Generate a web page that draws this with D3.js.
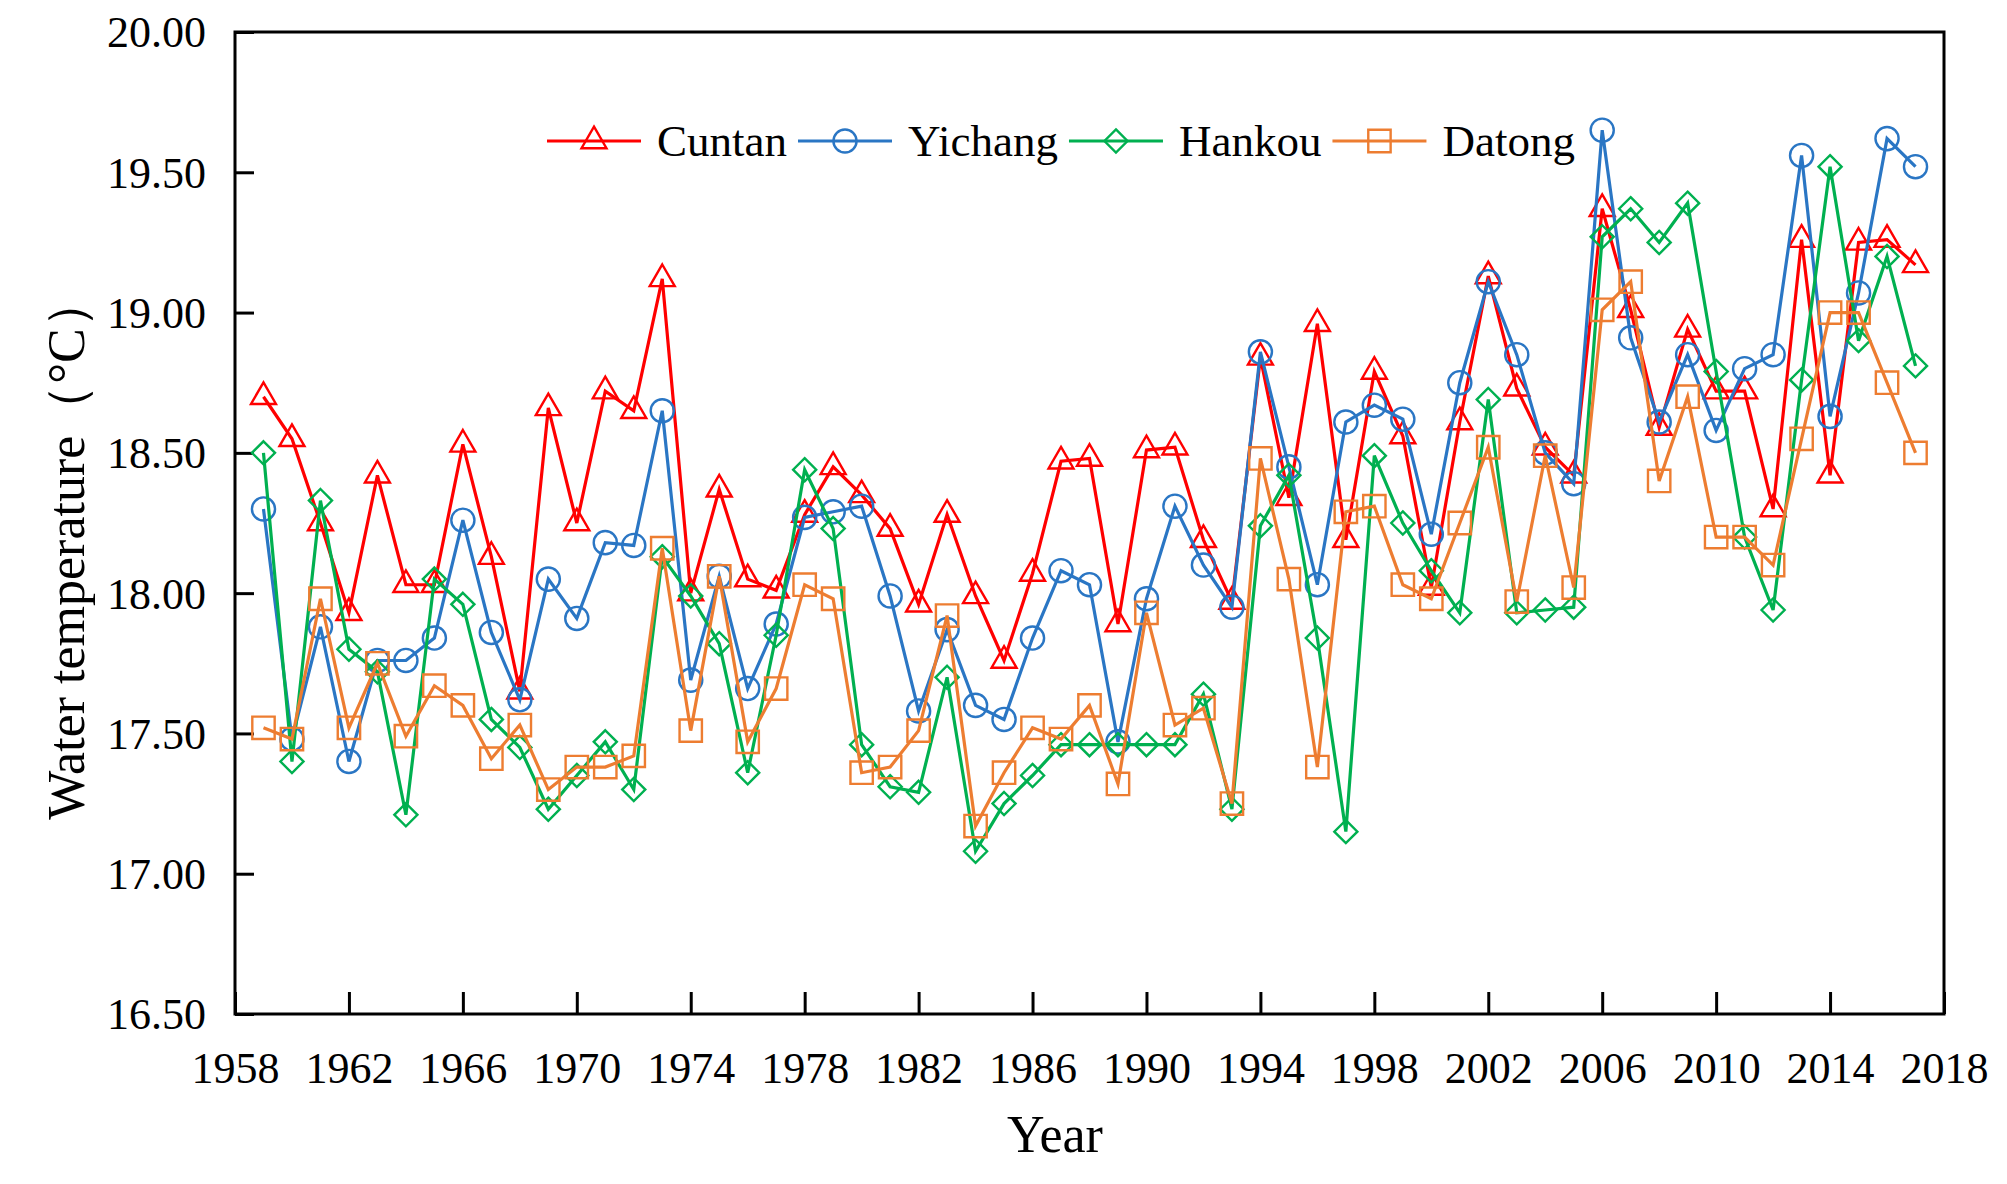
<!DOCTYPE html>
<html lang="en">
  <head>
    <meta charset="UTF-8" />
    <title>Water temperature</title>
    <style>
      body { margin: 0; background: #fff; }
      svg text { font-family: 'Liberation Serif', 'Times New Roman', serif; fill: #000; }
    </style>
  </head>
  <body>
    <svg id="svg" width="2007" height="1184"></svg>

    <script src="https://d3js.org/d3.v7.min.js"></script>
    <script>
      const years = d3.range(1959, 2018);

      const cuntan = [18.70, 18.55, 18.25, 17.93, 18.42, 18.03, 18.03, 18.53, 18.13, 17.65,
        18.66, 18.25, 18.72, 18.65, 19.12, 18.00, 18.37, 18.05, 18.01, 18.28,
        18.45, 18.35, 18.23, 17.96, 18.28, 17.99, 17.76, 18.07, 18.47, 18.48,
        17.89, 18.51, 18.52, 18.19, 17.97, 18.84, 18.34, 18.96, 18.19, 18.79,
        18.56, 18.02, 18.61, 19.13, 18.73, 18.52, 18.42, 19.37, 19.01, 18.59,
        18.94, 18.72, 18.72, 18.30, 19.26, 18.42, 19.25, 19.26, 19.17];

      const yichang = [18.30, 17.48, 17.88, 17.40, 17.76, 17.76, 17.84, 18.26, 17.86, 17.62,
        18.05, 17.91, 18.18, 18.17, 18.65, 17.69, 18.06, 17.66, 17.89, 18.27,
        18.29, 18.31, 17.99, 17.58, 17.87, 17.60, 17.55, 17.84, 18.08, 18.03,
        17.47, 17.98, 18.31, 18.10, 17.95, 18.86, 18.45, 18.03, 18.61, 18.67,
        18.62, 18.21, 18.75, 19.11, 18.85, 18.50, 18.39, 19.65, 18.91, 18.61,
        18.85, 18.58, 18.80, 18.85, 19.56, 18.63, 19.07, 19.62, 19.52];

      const hankou = [18.50, 17.40, 18.33, 17.80, 17.72, 17.21, 18.05, 17.96, 17.55, 17.45,
        17.23, 17.35, 17.47, 17.30, 18.13, 17.99, 17.82, 17.36, 17.85, 18.44,
        18.23, 17.46, 17.31, 17.29, 17.70, 17.08, 17.25, 17.35, 17.46, 17.46,
        17.46, 17.46, 17.46, 17.64, 17.23, 18.24, 18.42, 17.84, 17.15, 18.49,
        18.25, 18.08, 17.93, 18.69, 17.93, 17.94, 17.95, 19.27, 19.37, 19.25,
        19.39, 18.79, 18.20, 17.94, 18.76, 19.52, 18.90, 19.20, 18.81];

      const datong = [17.52, 17.48, 17.98, 17.52, 17.75, 17.49, 17.67, 17.60, 17.41, 17.53,
        17.30, 17.38, 17.38, 17.42, 18.16, 17.51, 18.06, 17.47, 17.66, 18.03,
        17.98, 17.36, 17.38, 17.51, 17.92, 17.17, 17.36, 17.52, 17.48, 17.60,
        17.32, 17.93, 17.53, 17.59, 17.25, 18.48, 18.05, 17.38, 18.29, 18.31,
        18.03, 17.98, 18.25, 18.52, 17.97, 18.49, 18.02, 19.01, 19.11, 18.40,
        18.70, 18.20, 18.20, 18.10, 18.55, 19.00, 19.00, 18.75, 18.50];

      const stations = ['Cuntan', 'Yichang', 'Hankou', 'Datong'];
      const xTicks = d3.range(1958, 2019, 4);
      const yTicks = [16.5, 17, 17.5, 18, 18.5, 19, 19.5, 20];

      const series = [
        { name: stations[0], values: cuntan, color: '#ff0000', symbol: d3.symbolTriangle, size: 270 },
        { name: stations[1], values: yichang, color: '#2a76c4', symbol: d3.symbolCircle, size: 420 },
        { name: stations[2], values: hankou, color: '#00b050', symbol: d3.symbolDiamond2, size: 340 },
        { name: stations[3], values: datong, color: '#ed7d31', symbol: d3.symbolSquare, size: 500 }
      ];

      const mLeft = 235, mRight = 1944, mTop = 32, mBottom = 1014;
      const svg = d3.select('#svg');

      const x = d3.scaleLinear().domain([1958, 2018]).range([mLeft, mRight]);
      const y = d3.scaleLinear().domain([16.5, 20]).range([mBottom, mTop]);

      // axes, ticks pointing inward
      svg.append('g')
        .attr('transform', `translate(0,${mBottom})`)
        .call(d3.axisBottom(x).tickValues(xTicks).tickFormat(d3.format('d'))
          .tickSize(-22).tickPadding(38))
        .call((g) => g.select('.domain').remove())
        .call((g) => g.selectAll('line').attr('stroke', '#000').attr('stroke-width', 3))
        .call((g) => g.selectAll('text').style('font-size', '44px'));

      svg.append('g')
        .attr('transform', `translate(${mLeft},0)`)
        .call(d3.axisLeft(y).tickValues(yTicks).tickFormat(d3.format('.2f'))
          .tickSize(-19).tickPadding(29))
        .call((g) => g.select('.domain').remove())
        .call((g) => g.selectAll('line').attr('stroke', '#000').attr('stroke-width', 3))
        .call((g) => g.selectAll('text').style('font-size', '44px').attr('dy', '0.34em'));

      svg.append('rect')
        .attr('x', mLeft).attr('y', mTop)
        .attr('width', mRight - mLeft).attr('height', mBottom - mTop)
        .attr('fill', 'none').attr('stroke', '#000').attr('stroke-width', 3);

      const line = d3.line().x((d, i) => x(years[i])).y((d) => y(d));

      series.forEach((s) => {
        const g = svg.append('g');
        g.append('path')
          .datum(s.values)
          .attr('d', line)
          .attr('fill', 'none')
          .attr('stroke', s.color)
          .attr('stroke-width', 3.2);
        g.selectAll('path.mark')
          .data(s.values)
          .enter()
          .append('path')
          .attr('class', 'mark')
          .attr('d', d3.symbol().type(s.symbol).size(s.size))
          .attr('transform', (d, i) => `translate(${x(years[i])},${y(d)})`)
          .attr('fill', 'none')
          .attr('stroke', s.color)
          .attr('stroke-width', 2.4);
      });

      // legend
      let lx = 547;
      const ly = 141;
      series.forEach((s) => {
        const g = svg.append('g');
        g.append('line')
          .attr('x1', lx).attr('x2', lx + 94)
          .attr('y1', ly).attr('y2', ly)
          .attr('stroke', s.color).attr('stroke-width', 3.2);
        g.append('path')
          .attr('d', d3.symbol().type(s.symbol).size(s.size))
          .attr('transform', `translate(${lx + 47},${ly})`)
          .attr('fill', 'none').attr('stroke', s.color).attr('stroke-width', 2.4);
        const t = g.append('text')
          .attr('x', lx + 110).attr('y', ly)
          .attr('dy', '0.33em')
          .style('font-size', '45px')
          .text(s.name);
        lx += 110 + t.node().getComputedTextLength() + 11;
      });

      svg.append('text')
        .attr('x', 1055).attr('y', 1152)
        .attr('text-anchor', 'middle')
        .style('font-size', '52px')
        .text('Year');

      svg.append('text')
        .attr('transform', 'translate(84,548) rotate(-90)')
        .attr('text-anchor', 'middle')
        .style('font-size', '52px')
        .text('Water temperature（°C）');
    </script>
  </body>
</html>
